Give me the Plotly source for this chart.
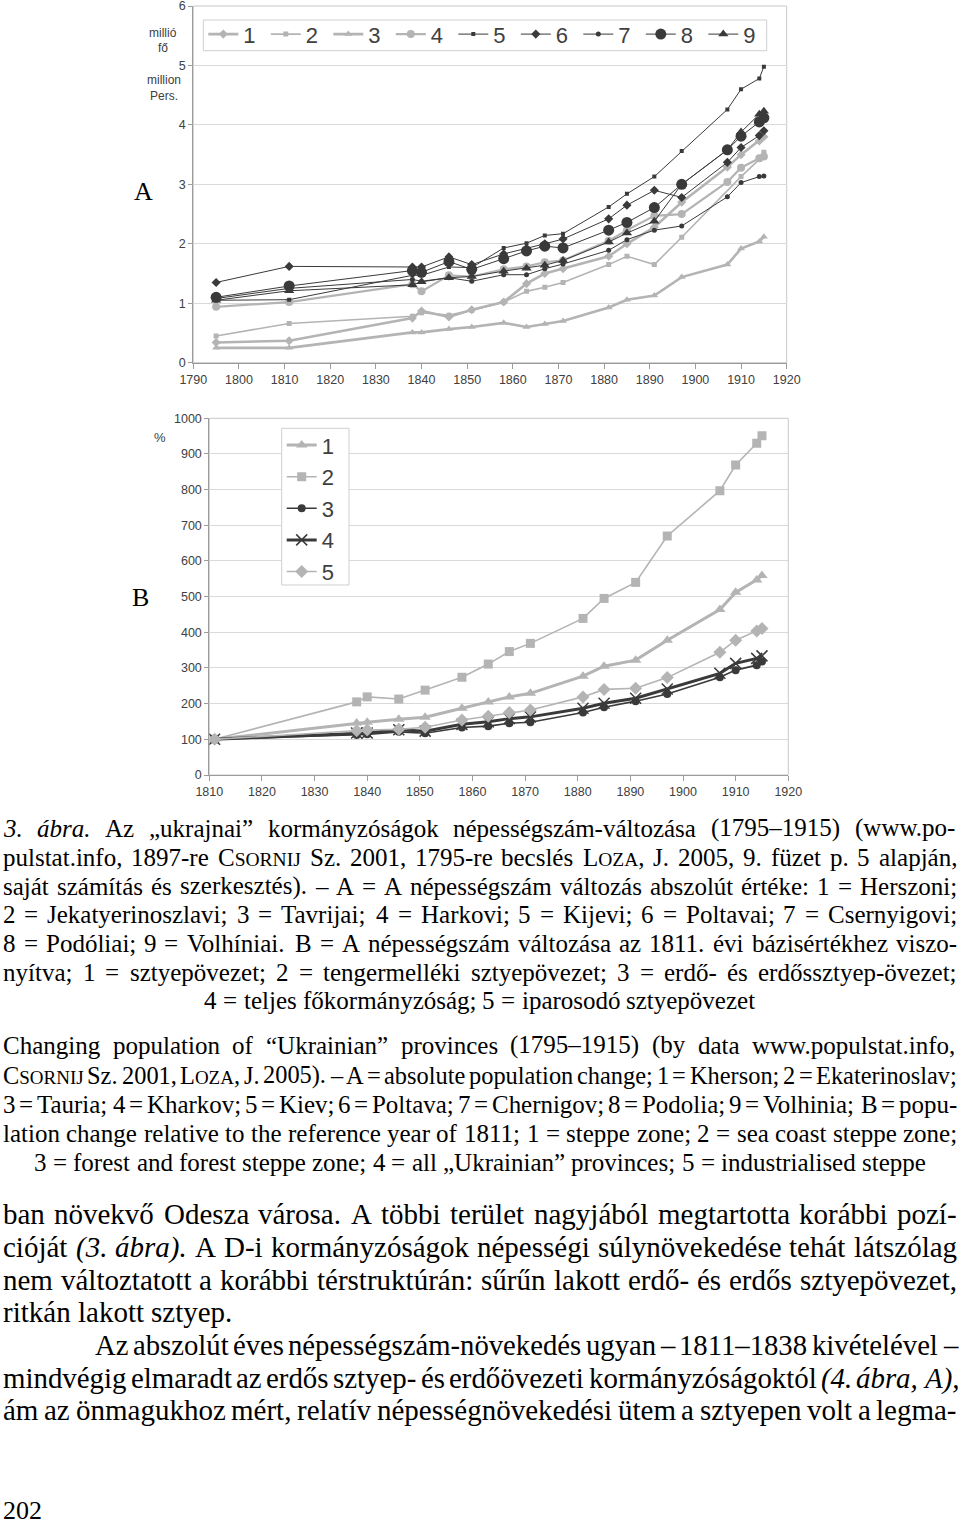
import re
import unicodedata
import plotly.graph_objects as go

W, H = 960, 1526

# ---------------- chart A data: population, million persons ----------------
years_a = [1795, 1811, 1838, 1840, 1846, 1851, 1858, 1863, 1867, 1871,
           1881, 1885, 1891, 1897, 1907, 1910, 1914, 1915]
a_kherson = [0.34, 0.37, 0.75, 0.87, 0.77, 0.89, 1.02, 1.33, 1.50, 1.58,
             1.79, 2.00, 2.28, 2.70, 3.29, 3.50, 3.73, 3.80]
a_ekaterinoslav = [0.45, 0.66, 0.78, 0.84, 0.80, 0.88, 1.02, 1.20, 1.27, 1.35,
                   1.65, 1.79, 1.65, 2.11, None, 3.13, 3.42, 3.54]
a_tauria = [0.25, 0.25, 0.51, 0.51, 0.565, 0.60, 0.67, 0.60, 0.65, 0.70,
            0.93, 1.06, 1.13, 1.44, 1.65, 1.92, 2.04, 2.12]
a_kharkov = [0.94, 1.02, 1.32, 1.20, 1.47, 1.45, 1.57, 1.62, 1.69, 1.72,
             2.05, 2.23, 2.47, 2.50, 3.04, 3.28, 3.44, 3.47]
a_kiev = [1.05, 1.06, 1.47, 1.47, 1.61, 1.60, 1.93, 2.01, 2.14, 2.17,
          2.62, 2.84, 3.13, 3.56, 4.26, 4.60, 4.78, 4.98]
a_poltava = [1.35, 1.62, 1.61, 1.61, 1.78, 1.65, 1.83, 1.92, 2.00, 2.08,
             2.42, 2.65, 2.90, 2.78, 3.37, 3.62, 3.82, 3.90]
a_chernigov = [1.08, 1.25, 1.40, 1.37, 1.43, 1.37, 1.48, 1.48, 1.58, 1.66,
               1.89, 2.07, 2.23, 2.30, 2.79, 3.03, 3.13, 3.14]
a_podolia = [1.10, 1.29, 1.55, 1.52, 1.70, 1.57, 1.75, 1.88, 1.96, 1.93,
             2.23, 2.36, 2.61, 3.00, 3.58, 3.81, 4.05, 4.12]
a_volhinia = [1.05, 1.21, 1.31, 1.36, 1.43, 1.45, 1.54, 1.59, 1.64, 1.72,
              2.03, 2.18, 2.38, 3.00, 3.58, 3.88, 4.18, 4.23]
names_a = ['1', '2', '3', '4', '5', '6', '7', '8', '9']

# ---------------- chart B data: % of the 1811 value ----------------
years_b = [1811, 1838, 1840, 1846, 1851, 1858, 1863, 1867, 1871,
           1881, 1885, 1891, 1897, 1907, 1910, 1914, 1915]
b_steppe = [100, 146, 148, 156, 162, 187, 205, 219, 229,
            277, 305, 322, 378, 464, 512, 547, 559]
b_coast = [100, 205, 219, 213, 238, 274, 311, 346, 369,
           439, 495, 540, 670, 797, 869, 930, 951]
b_forest = [100, 112, 114, 121, 117, 133, 137, 145, 148,
            175, 190, 207, 227, 274, 294, 308, 318]
b_all = [100, 118, 118, 127, 123, 142, 149, 158, 163,
         187, 201, 215, 241, 285, 313, 327, 334]
b_industrial = [100, 124, 126, 128, 134, 154, 165, 175, 182,
                219, 240, 243, 273, 344, 378, 404, 411]
names_b = ['1', '2', '3', '4', '5']

xticks_a = list(range(1790, 1921, 10))
yticks_a = [0, 1, 2, 3, 4, 5, 6]
xticks_b = list(range(1810, 1921, 10))
yticks_b = list(range(0, 1001, 100))

# ---------------- styles ----------------
GRAY = '#b4b4b4'
DARK = '#3a3a3a'
AX = '#9c9c9c'
GRID = '#d9d9d9'
SANS = 'Liberation Sans, Arial, sans-serif'
SERIF = 'Liberation Serif, Times New Roman, serif'
TICKFONT = dict(family=SANS, size=12.5, color='#404040')


def px_x(p):
    return p / W


def px_y(p):
    return 1 - p / H


fig = go.Figure()

styles_a = [
    dict(c=GRAY, w=2.6, s='diamond', z=7),
    dict(c=GRAY, w=1.6, s='square', z=5),
    dict(c=GRAY, w=2.6, s='triangle-up', z=7),
    dict(c=GRAY, w=2.2, s='circle', z=8),
    dict(c=DARK, w=1.0, s='square', z=4),
    dict(c=DARK, w=1.0, s='diamond', z=7),
    dict(c=DARK, w=1.0, s='circle', z=5),
    dict(c=DARK, w=1.0, s='circle', z=11),
    dict(c=DARK, w=1.0, s='triangle-up', z=9),
]
values_a = [a_kherson, a_ekaterinoslav, a_tauria, a_kharkov, a_kiev,
            a_poltava, a_chernigov, a_podolia, a_volhinia]
for name, vals, st in zip(names_a, values_a, styles_a):
    fig.add_trace(go.Scatter(
        x=years_a, y=vals, name=name, mode='lines+markers', connectgaps=True,
        line=dict(color=st['c'], width=st['w']),
        marker=dict(symbol=st['s'], size=st['z'], color=st['c'], line=dict(width=0)),
        xaxis='x', yaxis='y', legend='legend', hoverinfo='skip'))

styles_b = [
    dict(c=GRAY, w=3.0, s='triangle-up', z=10),
    dict(c=GRAY, w=1.6, s='square', z=9),
    dict(c=DARK, w=1.6, s='circle', z=8),
    dict(c=DARK, w=3.0, s='x-thin', z=11),
    dict(c=GRAY, w=1.6, s='diamond', z=10),
]
values_b = [b_steppe, b_coast, b_forest, b_all, b_industrial]
for i, (name, vals, st) in enumerate(zip(names_b, values_b, styles_b)):
    mk = dict(symbol=st['s'], size=st['z'], color=st['c'], line=dict(width=0))
    if st['s'] == 'x-thin':
        mk['line'] = dict(width=1.5, color=st['c'])
    fig.add_trace(go.Scatter(
        x=years_b, y=vals, name=name, mode='lines+markers',
        line=dict(color=st['c'], width=st['w']), marker=mk,
        xaxis='x2', yaxis='y2', legend='legend2', legendgroup='b%d' % i,
        hoverinfo='skip'))

# plot-area pixel boxes
A_L, A_R, A_T, A_B = 193.3, 786.7, 6.0, 362.7
B_L, B_R, B_T, B_B = 209.3, 788.3, 418.3, 775.0

common_x = dict(showgrid=False, showline=True, linecolor=AX, linewidth=1,
                ticks='outside', ticklen=5, tickcolor=AX, tickfont=TICKFONT,
                zeroline=False, fixedrange=True, ticklabeloverflow='allow')
common_y = dict(showgrid=True, gridcolor=GRID, gridwidth=1, showline=True,
                linecolor=AX, linewidth=1, ticks='outside', ticklen=4,
                tickcolor=AX, tickfont=TICKFONT, zeroline=False, fixedrange=True,
                ticklabeloverflow='allow')

fig.update_layout(
    width=W, height=H, margin=dict(l=0, r=0, t=0, b=0, autoexpand=False),
    paper_bgcolor='white', plot_bgcolor='white',
    xaxis=dict(domain=[px_x(A_L), px_x(A_R)], range=[1790, 1920],
               tickvals=xticks_a, anchor='y', **common_x),
    yaxis=dict(domain=[px_y(A_B), px_y(A_T)], range=[0, 6],
               tickvals=yticks_a, anchor='x', **common_y),
    xaxis2=dict(domain=[px_x(B_L), px_x(B_R)], range=[1810, 1920],
                tickvals=xticks_b, anchor='y2', **common_x),
    yaxis2=dict(domain=[px_y(B_B), px_y(B_T)], range=[0, 1000],
                tickvals=yticks_b, anchor='x2', **common_y),
    legend=dict(orientation='h', x=px_x(203.3), y=px_y(13.3), xanchor='left',
                yanchor='top', bgcolor='rgba(0,0,0,0)', borderwidth=0,
                font=dict(family=SANS, size=22, color='#404040'),
                entrywidth=17.5, entrywidthmode='pixels', traceorder='normal'),
    legend2=dict(orientation='v', x=px_x(281.7), y=px_y(424.3), xanchor='left',
                 yanchor='top', bgcolor='rgba(0,0,0,0)', borderwidth=0,
                 font=dict(family=SANS, size=22, color='#404040'),
                 traceorder='grouped', tracegroupgap=0),
    showlegend=True,
)

# light frame around both plot areas
for xr, yr in (('x domain', 'y domain'), ('x2 domain', 'y2 domain')):
    fig.add_shape(type='rect', xref=xr, yref=yr, x0=0, x1=1, y0=0, y1=1,
                  line=dict(color='#c8c8c8', width=1), layer='below')
# legend boxes
for x0, x1, y0, y1 in ((203.3, 766.7, 20.0, 50.7), (281.7, 349.0, 428.3, 585.0)):
    fig.add_shape(type='rect', xref='paper', yref='paper',
                  x0=px_x(x0), x1=px_x(x1), y0=px_y(y1), y1=px_y(y0),
                  line=dict(color='#cfcfcf', width=1), fillcolor='white',
                  layer='above')

ann = []


def label(x, y, text, size, family=SANS, color='#404040', anchor='center'):
    ann.append(dict(x=px_x(x), y=px_y(y), xref='paper', yref='paper', text=text,
                    showarrow=False, xanchor=anchor, yanchor='middle',
                    font=dict(family=family, size=size, color=color), borderpad=0))


label(163, 33, 'millió', 12)
label(163, 48, 'fő', 12)
label(164, 80, 'million', 12)
label(164, 96, 'Pers.', 12)
label(160, 437, '%', 13)
label(143, 192, 'A', 26, SERIF, 'black')
label(140, 597, 'B', 26, SERIF, 'black')

# ---------------- justified serif text below the charts ----------------
R = {' ': .25, 'a': .444, 'b': .5, 'c': .444, 'd': .5, 'e': .444, 'f': .333,
     'g': .5, 'h': .5, 'i': .278, 'j': .278, 'k': .5, 'l': .278, 'm': .778,
     'n': .5, 'o': .5, 'p': .5, 'q': .5, 'r': .333, 's': .389, 't': .278,
     'u': .5, 'v': .5, 'w': .722, 'x': .5, 'y': .5, 'z': .444,
     'A': .722, 'B': .667, 'C': .667, 'D': .722, 'E': .611, 'F': .556,
     'G': .722, 'H': .722, 'I': .333, 'J': .389, 'K': .722, 'L': .611,
     'M': .889, 'N': .722, 'O': .722, 'P': .556, 'Q': .722, 'R': .667,
     'S': .556, 'T': .611, 'U': .722, 'V': .722, 'W': .944, 'X': .722,
     'Y': .722, 'Z': .611, '.': .25, ',': .25, ';': .278, ':': .278,
     '-': .333, '–': .5, '(': .333, ')': .333, '=': .564, '„': .444,
     '”': .444, '“': .444, '/': .278}
IT = {'a': .5, 'b': .5, 'c': .444, 'd': .5, 'e': .444, 'f': .278, 'g': .5,
      'h': .5, 'i': .278, 'j': .278, 'k': .444, 'l': .278, 'm': .722, 'n': .5,
      'o': .5, 'p': .5, 'q': .5, 'r': .389, 's': .389, 't': .278, 'u': .5,
      'v': .444, 'w': .667, 'x': .444, 'y': .444, 'z': .389, 'A': .611}


def char_w(ch, italic):
    tbl = IT if italic else R
    for c in (ch, unicodedata.normalize('NFD', ch)[0]):
        if c in tbl:
            return tbl[c]
        if c in R:
            return R[c]
    return 0.5


TAG = re.compile(r'(<i>|</i>|<sc>|</sc>)')
SCF = 0.78


def word_metrics(word, size):
    italic = sc = False
    width = 0.0
    out = []
    for part in TAG.split(word):
        if part == '<i>':
            italic = True
            continue
        if part == '</i>':
            italic = False
            continue
        if part == '<sc>':
            sc = True
            continue
        if part == '</sc>':
            sc = False
            continue
        if not part:
            continue
        s = size * (SCF if sc else 1.0)
        width += sum(char_w(c, italic) for c in part) * s
        txt = part
        if sc:
            txt = '<span style="font-size:%.1fpx">%s</span>' % (s, txt)
        if italic:
            txt = '<i>%s</i>' % txt
        out.append(txt)
    return width, ''.join(out)


MINGAP = 0.15


def set_line(ycen, size, mode, x0, x1, text):
    words = text.split(' ')
    n = len(words) - 1
    avail = x1 - x0
    ms = [word_metrics(w, size) for w in words]
    wt = sum(m[0] for m in ms)
    if mode == 'j' and n > 0 and (avail - wt) / n < MINGAP * size:
        size = avail / (wt / size + MINGAP * n)
        ms = [word_metrics(w, size) for w in words]
        wt = sum(m[0] for m in ms)
    if mode == 'j' and n > 0:
        gap = (avail - wt) / n
        x = x0
    else:
        gap = 0.25 * size
        x = x0 if mode == 'l' else (x0 + x1) / 2 - (wt + n * gap) / 2
    for w, (wd, html) in zip(words, ms):
        ann.append(dict(x=px_x(x), y=px_y(ycen), xref='paper', yref='paper',
                        text=html, showarrow=False, xanchor='left',
                        yanchor='middle', borderpad=0, borderwidth=0,
                        font=dict(family=SERIF, size=size, color='black')))
        x += wd + gap


CAP = 25
BODY = 29
lines = [
    (828, CAP, 'j', 3, 957, '<i>3.</i> <i>ábra.</i> Az „ukrajnai” kormányzóságok népességszám-változása (1795–1915) (www.po-'),
    (857, CAP, 'j', 3, 957, 'pulstat.info, 1897-re C<sc>SORNIJ</sc> Sz. 2001, 1795-re becslés L<sc>OZA</sc>, J. 2005, 9. füzet p. 5 alapján,'),
    (886, CAP, 'j', 3, 957, 'saját számítás és szerkesztés). – A = A népességszám változás abszolút értéke: 1 = Herszoni;'),
    (914, CAP, 'j', 3, 957, '2 = Jekatyerinoszlavi; 3 = Tavrijai; 4 = Harkovi; 5 = Kijevi; 6 = Poltavai; 7 = Csernyigovi;'),
    (943, CAP, 'j', 3, 957, '8 = Podóliai; 9 = Volhíniai. B = A népességszám változása az 1811. évi bázisértékhez viszo-'),
    (972, CAP, 'j', 3, 957, 'nyítva; 1 = sztyepövezet; 2 = tengermelléki sztyepövezet; 3 = erdő- és erdőssztyep-övezet;'),
    (1001, CAP, 'c', 3, 957, '4 = teljes főkormányzóság; 5 = iparosodó sztyepövezet'),
    (1045, CAP, 'j', 3, 957, 'Changing population of “Ukrainian” provinces (1795–1915) (by data www.populstat.info,'),
    (1075, CAP, 'j', 3, 957, 'C<sc>SORNIJ</sc> Sz. 2001, L<sc>OZA</sc>, J. 2005). – A = absolute population change; 1 = Kherson; 2 = Ekaterinoslav;'),
    (1104, CAP, 'j', 3, 957, '3 = Tauria; 4 = Kharkov; 5 = Kiev; 6 = Poltava; 7 = Chernigov; 8 = Podolia; 9 = Volhinia; B = popu-'),
    (1133, CAP, 'j', 3, 957, 'lation change relative to the reference year of 1811; 1 = steppe zone; 2 = sea coast steppe zone;'),
    (1162, CAP, 'c', 3, 957, '3 = forest and forest steppe zone; 4 = all „Ukrainian” provinces; 5 = industrialised steppe'),
    (1214, BODY, 'j', 3, 957, 'ban növekvő Odesza városa. A többi terület nagyjából megtartotta korábbi pozí-'),
    (1247, BODY, 'j', 3, 957, 'cióját <i>(3.</i> <i>ábra).</i> A D-i kormányzóságok népességi súlynövekedése tehát látszólag'),
    (1280, BODY, 'j', 3, 957, 'nem változtatott a korábbi térstruktúrán: sűrűn lakott erdő- és erdős sztyepövezet,'),
    (1312, BODY, 'l', 3, 957, 'ritkán lakott sztyep.'),
    (1345, BODY, 'j', 95, 957, 'Az abszolút éves népességszám-növekedés ugyan – 1811–1838 kivételével –'),
    (1378, BODY, 'j', 3, 957, 'mindvégig elmaradt az erdős sztyep- és erdőövezeti kormányzóságoktól <i>(4.</i> <i>ábra,</i> <i>A),</i>'),
    (1410, BODY, 'j', 3, 957, 'ám az önmagukhoz mért, relatív népességnövekedési ütem a sztyepen volt a legma-'),
    (1510, 26, 'l', 3, 957, '202'),
]
for ln in lines:
    set_line(*ln)

fig.update_layout(annotations=ann)

fig.write_html("out.html", config={'displayModeBar': False},
               post_script="document.body.style.margin='0px';")
